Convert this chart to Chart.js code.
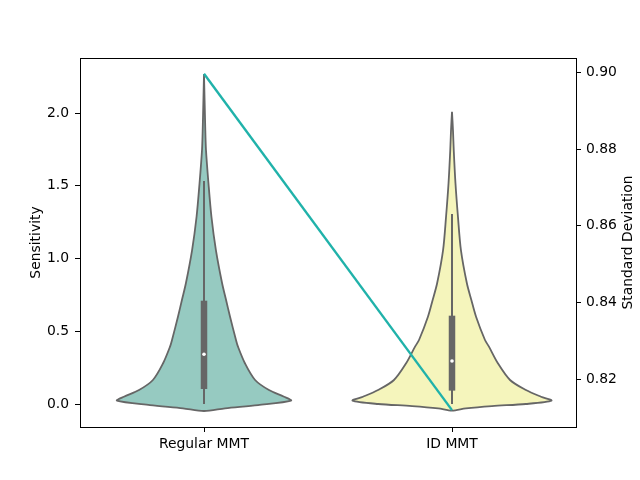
<!DOCTYPE html>
<html>
<head>
<meta charset="utf-8">
<script src="https://cdn.jsdelivr.net/npm/chart.js@4.4.1/dist/chart.umd.min.js"></script>
<style>
  html, body { margin: 0; padding: 0; background: #fff; }
</style>
</head>
<body>
<canvas id="myChart" width="640" height="480"></canvas>
<script>
// Violinplot av sensitivitet med standardavvik på ein ekstra y-akse

const categories = ['Regular MMT', 'ID MMT'];

// omriss av fiolinane: sensitivitetsnivå og halv breidd (i kategorieiningar)
const regularLevels = [2.268, 1.9, 1.746, 1.517, 1.287, 1.058, 0.830, 0.715, 0.600, 0.440, 0.394, 0.280, 0.165, 0.096, 0.050, 0.023, -0.007, -0.030, -0.048];
const regularWidths = [0, 0.005, 0.008, 0.018, 0.030, 0.048, 0.073, 0.089, 0.105, 0.129, 0.137, 0.165, 0.206, 0.262, 0.323, 0.351, 0.218, 0.085, 0];
const idLevels = [2.009, 1.88, 1.746, 1.517, 1.287, 1.058, 0.830, 0.715, 0.600, 0.440, 0.394, 0.280, 0.165, 0.096, 0.050, 0.023, 0.000, -0.014, -0.030, -0.046];
const idWidths = [0, 0.004, 0.007, 0.014, 0.024, 0.036, 0.060, 0.078, 0.097, 0.133, 0.149, 0.185, 0.234, 0.298, 0.359, 0.401, 0.298, 0.161, 0.056, 0];

// boks: nedre whisker, q1, median, q3, øvre whisker
const regularBox = [0.0, 0.103, 0.342, 0.710, 1.533];
const idBox = [0.0, 0.092, 0.296, 0.607, 1.306];

// standardavvik (høgre akse)
const stdDev = [0.8996, 0.812];

const sensTicks = [0, 0.5, 1, 1.5, 2];
const stdTicks = [0.82, 0.84, 0.86, 0.88, 0.90];

const fills = ['#96cac1', '#f5f5bc'];
const edge = '#666666';
const lineColor = '#20b2aa';

function violinOutline(pos, levels, widths) {
  const pts = [];
  for (let i = 0; i < levels.length; i++) pts.push({x: pos + widths[i], y: levels[i]});
  for (let i = levels.length - 2; i >= 0; i--) pts.push({x: pos - widths[i], y: levels[i]});
  return pts;
}

function violinSets(pos, levels, widths, box, color) {
  return [
    {
      data: violinOutline(pos, levels, widths),
      borderColor: edge, borderWidth: 1.8, backgroundColor: color,
      fill: 'shape', tension: 0.3, pointRadius: 0, order: 4
    },
    {
      data: [{x: pos, y: box[0]}, {x: pos, y: box[4]}],
      borderColor: edge, borderWidth: 2, pointRadius: 0, order: 3
    },
    {
      data: [{x: pos, y: box[1]}, {x: pos, y: box[3]}],
      borderColor: edge, borderWidth: 6.5, borderCapStyle: 'butt', pointRadius: 0, order: 2
    },
    {
      data: [{x: pos, y: box[2]}],
      showLine: false, pointRadius: 1.8, pointBackgroundColor: '#fff', pointBorderWidth: 0, order: 1
    }
  ];
}

const topSpine = {
  id: 'topSpine',
  afterDraw(chart) {
    const {ctx, chartArea: a} = chart;
    ctx.save();
    ctx.strokeStyle = '#000';
    ctx.lineWidth = 1;
    ctx.beginPath();
    ctx.moveTo(a.left, Math.round(a.top) + 0.5);
    ctx.lineTo(a.right + 0.5, Math.round(a.top) + 0.5);
    ctx.stroke();
    // tittel på høgre akse, lesen nedanfrå og opp
    ctx.translate(chart.scales.y2.right - 12, (a.top + a.bottom) / 2);
    ctx.rotate(-Math.PI / 2);
    ctx.fillStyle = '#000';
    ctx.font = '13.9px "DejaVu Sans"';
    ctx.textAlign = 'center';
    ctx.textBaseline = 'middle';
    ctx.fillText('Standard Deviation', 0, 0);
    ctx.restore();
  }
};

Chart.defaults.font.family = '"DejaVu Sans", sans-serif';
Chart.defaults.font.size = 13.9;
Chart.defaults.color = '#000';

const ctx = document.getElementById('myChart');

new Chart(ctx, {
  type: 'line',
  data: {
    datasets: [
      ...violinSets(0, regularLevels, regularWidths, regularBox, fills[0]),
      ...violinSets(1, idLevels, idWidths, idBox, fills[1]),
      {
        data: stdDev.map((v, i) => ({x: i, y: v})),
        yAxisID: 'y2',
        borderColor: lineColor, borderWidth: 2.4, pointRadius: 0, order: 0
      }
    ]
  },
  options: {
    responsive: false,
    animation: false,
    layout: { padding: { top: 58, left: 0, right: 0, bottom: 0 } },
    plugins: { legend: { display: false }, tooltip: { enabled: false } },
    scales: {
      x: {
        type: 'linear', min: -0.5, max: 1.5,
        afterBuildTicks: s => { s.ticks = categories.map((c, i) => ({value: i})); },
        afterFit: s => { s.height = 53; },
        ticks: { callback: v => categories[v], padding: 4, maxRotation: 0 },
        grid: { drawOnChartArea: false, color: '#000', tickLength: 5 },
        border: { color: '#000' }
      },
      y: {
        position: 'left', min: -0.158, max: 2.378,
        afterBuildTicks: s => { s.ticks = sensTicks.map(v => ({value: v})); },
        afterFit: s => { s.width = 80; },
        ticks: { callback: v => v.toFixed(1), padding: 6 },
        grid: { drawOnChartArea: false, color: '#000', tickLength: 5 },
        border: { color: '#000' },
        title: { display: true, text: 'Sensitivity', padding: { top: 28, bottom: 0 } }
      },
      y2: {
        position: 'right', min: 0.8076, max: 0.9037,
        afterBuildTicks: s => { s.ticks = stdTicks.map(v => ({value: v})); },
        afterFit: s => { s.width = 64; },
        ticks: { callback: v => v.toFixed(2), padding: 5 },
        grid: { drawOnChartArea: false, color: '#000', tickLength: 5 },
        border: { color: '#000' }
      }
    }
  },
  plugins: [topSpine]
});
</script>
</body>
</html>
